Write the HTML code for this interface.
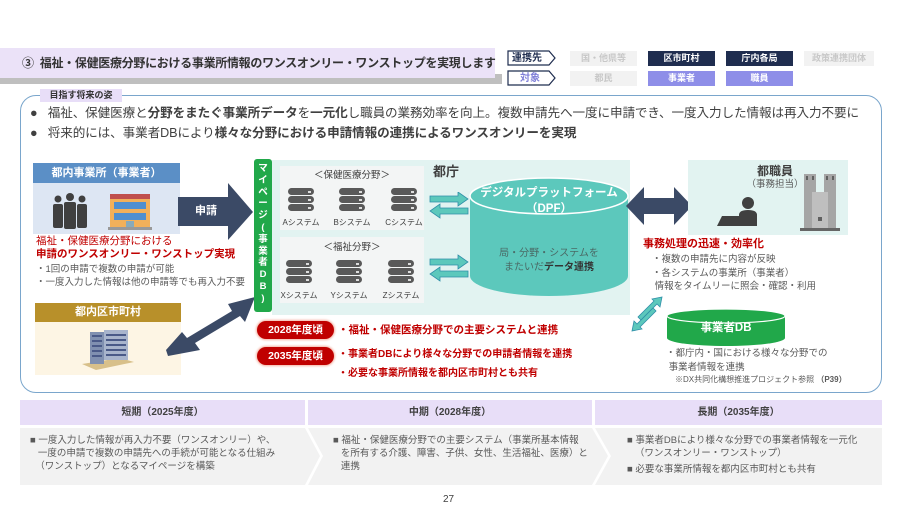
<!DOCTYPE html>
<html><head><meta charset="utf-8"><style>
*{margin:0;padding:0;box-sizing:border-box}
body{width:900px;height:506px;background:#fff;position:relative;overflow:hidden;font-family:"Liberation Sans","Noto Sans CJK JP",sans-serif;color:#404040}
.a{position:absolute;line-height:1.2}
.b{font-weight:bold}
.c{text-align:center}
.cell{position:absolute;height:15px;font-size:9px;line-height:15px;text-align:center;font-weight:bold}
.db{position:absolute;width:26px}
.db i{display:block;height:7px;background:#595959;border-radius:6px;margin-bottom:1px;position:relative}
.db i:after{content:"";position:absolute;right:3px;top:3px;width:3px;height:2px;background:#ddd}
.lbl{position:absolute;font-size:8px;color:#404040;width:50px;text-align:center}
.red{color:#c00000;font-weight:bold}
.g{color:#595959}
</style></head><body>
<!-- header -->
<div class="a" style="left:0;top:74px;width:502px;height:10px;background:#bfbfbf"></div>
<div class="a" style="left:0;top:48px;width:495px;height:30px;background:#ebe2f8"></div>
<div class="a b" style="left:22px;top:56px;font-size:12px;letter-spacing:-0.3px;color:#333;white-space:nowrap">③&nbsp; 福祉・保健医療分野における事業所情報のワンスオンリー・ワンストップを実現します</div>
<svg class="a" style="left:507px;top:50px" width="50" height="40"><path d="M1 1H42L48 8L42 15H1Z" fill="#fff" stroke="#1f2d4f" stroke-width="1.2"/><path d="M1 21H42L48 28L42 35H1Z" fill="#fff" stroke="#1f2d4f" stroke-width="1.2"/></svg>
<div class="a b" style="left:512px;top:51px;font-size:10px;line-height:15px;color:#1f2d4f">連携先</div>
<div class="a b" style="left:520px;top:71px;font-size:10px;line-height:15px;color:#8080d8">対象</div>
<div class="cell" style="left:570px;top:51px;width:67px;background:#f2f2f2;color:#c8c8c8">国・他県等</div>
<div class="cell" style="left:648px;top:51px;width:67px;background:#1f2d4f;color:#fff">区市町村</div>
<div class="cell" style="left:726px;top:51px;width:67px;background:#1f2d4f;color:#fff">庁内各局</div>
<div class="cell" style="left:804px;top:51px;width:70px;background:#f2f2f2;color:#c8c8c8">政策連携団体</div>
<div class="cell" style="left:570px;top:71px;width:67px;background:#f2f2f2;color:#c8c8c8">都民</div>
<div class="cell" style="left:648px;top:71px;width:67px;background:#8e8ee8;color:#fff">事業者</div>
<div class="cell" style="left:726px;top:71px;width:67px;background:#8e8ee8;color:#fff">職員</div>
<!-- main box -->
<div class="a" style="left:20px;top:95px;width:862px;height:298px;border:1px solid #7aa6cc;border-radius:16px"></div>
<div class="a b" style="left:40px;top:89px;width:82px;height:13px;background:#e8def8;font-size:9px;line-height:13px;text-align:center;color:#333">目指す将来の姿</div>
<div class="a" style="left:30px;top:106px;font-size:12.6px;white-space:nowrap;letter-spacing:-0.1px">●&nbsp;&nbsp; 福祉、保健医療と<b>分野をまたぐ事業所データ</b>を<b>一元化</b>し職員の業務効率を向上。複数申請先へ一度に申請でき、一度入力した情報は再入力不要に</div>
<div class="a" style="left:30px;top:126px;font-size:12.6px;white-space:nowrap;letter-spacing:-0.1px">●&nbsp;&nbsp; 将来的には、事業者DBにより<b>様々な分野における申請情報の連携によるワンスオンリーを実現</b></div>
<!-- 都内事業所 -->
<div class="a b c" style="left:33px;top:163px;width:147px;height:20px;background:#5b8fc6;color:#fff;font-size:11px;line-height:20px">都内事業所（事業者）</div>
<div class="a" style="left:33px;top:183px;width:147px;height:51px;background:#dde6f3"></div>
<svg class="a" style="left:50px;top:193px" width="40" height="36"><g fill="#404040"><circle cx="8" cy="6" r="3.5"/><circle cx="20" cy="4" r="4"/><circle cx="32" cy="6" r="3.5"/><rect x="3" y="11" width="10" height="24" rx="2"/><rect x="14" y="9" width="12" height="27" rx="2"/><rect x="27" y="11" width="10" height="24" rx="2"/></g></svg>
<svg class="a" style="left:108px;top:192px" width="44" height="38"><rect x="2" y="2" width="40" height="34" fill="#f2b05a"/><rect x="2" y="2" width="40" height="5" fill="#c0504d"/><rect x="6" y="10" width="32" height="7" fill="#4f8fd0"/><rect x="6" y="21" width="32" height="7" fill="#4f8fd0"/><rect x="18" y="29" width="8" height="7" fill="#8ab"/><rect x="0" y="35" width="44" height="3" fill="#999"/></svg>
<svg class="a" style="left:178px;top:183px" width="76" height="58"><path d="M0 14H50V0L75 29L50 57V43H0Z" fill="#3b4a66"/></svg>
<div class="a b" style="left:195px;top:205px;color:#fff;font-size:11px">申請</div>
<div class="a" style="left:36px;top:235px;font-size:10.5px;color:#c00000">福祉・保健医療分野における</div>
<div class="a red" style="left:36px;top:248px;font-size:10.5px">申請のワンスオンリー・ワンストップ実現</div>
<div class="a g" style="left:36px;top:263px;font-size:9.5px;line-height:13px">・1回の申請で複数の申請が可能<br>・一度入力した情報は他の申請等でも再入力不要</div>
<!-- 区市町村 -->
<div class="a b c" style="left:35px;top:303px;width:146px;height:19px;background:#b8902a;color:#fff;font-size:11px;line-height:19px">都内区市町村</div>
<div class="a" style="left:35px;top:322px;width:146px;height:53px;background:#fdf5e4"></div>
<svg class="a" style="left:80px;top:326px" width="56" height="44"><path d="M2 38L40 32L54 36L16 44Z" fill="#d8c08a"/><rect x="10" y="6" width="14" height="32" fill="#8090b0"/><rect x="24" y="4" width="24" height="30" fill="#a8b4cc"/><g fill="#4a5a88"><rect x="12" y="9" width="10" height="2"/><rect x="12" y="14" width="10" height="2"/><rect x="12" y="19" width="10" height="2"/><rect x="12" y="24" width="10" height="2"/><rect x="12" y="29" width="10" height="2"/><rect x="26" y="8" width="20" height="2"/><rect x="26" y="13" width="20" height="2"/><rect x="26" y="18" width="20" height="2"/><rect x="26" y="23" width="20" height="2"/><rect x="26" y="28" width="20" height="2"/></g></svg>
<svg class="a" style="left:160px;top:290px" width="100" height="70"><path d="M6 60L22 42L27 48L72 21L68 14L95 7L85 32L80 26L35 53L40 60L8 66Z" fill="#3b4a66"/></svg>
<!-- mypage & teal -->
<div class="a" style="left:272px;top:160px;width:358px;height:155px;background:#e2f3f1"></div>
<div class="a b" style="left:254px;top:159px;width:18px;height:153px;background:#21a84a;border-radius:3px;color:#fff;font-size:9.5px;line-height:11.8px;text-align:center;padding-top:4px">マ<br>イ<br>ペ<br>ー<br>ジ<br>(<br>事<br>業<br>者<br>D<br>B<br>)</div>
<div class="a" style="left:280px;top:166px;width:144px;height:64px;background:#f3f5f5"></div>
<div class="a" style="left:280px;top:237px;width:144px;height:66px;background:#f3f5f5"></div>
<div class="a c" style="left:280px;top:170px;width:144px;font-size:9.5px">＜保健医療分野＞</div>
<div class="a c" style="left:280px;top:242px;width:144px;font-size:9.5px">＜福祉分野＞</div>
<div class="db" style="left:288px;top:188px"><i></i><i></i><i></i></div>
<div class="db" style="left:339px;top:188px"><i></i><i></i><i></i></div>
<div class="db" style="left:391px;top:188px"><i></i><i></i><i></i></div>
<div class="db" style="left:286px;top:260px"><i></i><i></i><i></i></div>
<div class="db" style="left:336px;top:260px"><i></i><i></i><i></i></div>
<div class="db" style="left:388px;top:260px"><i></i><i></i><i></i></div>
<div class="lbl" style="left:276px;top:217px">Aシステム</div>
<div class="lbl" style="left:327px;top:217px">Bシステム</div>
<div class="lbl" style="left:379px;top:217px">Cシステム</div>
<div class="lbl" style="left:274px;top:290px">Xシステム</div>
<div class="lbl" style="left:324px;top:290px">Yシステム</div>
<div class="lbl" style="left:376px;top:290px">Zシステム</div>
<div class="a b" style="left:433px;top:164px;font-size:13px;color:#404040">都庁</div>
<svg class="a" style="left:428px;top:192px" width="42" height="96"><g fill="#5cc8bc" stroke="#2f8fa8" stroke-width="0.8"><path d="M2 4H30V0L40 7L30 14V10H2Z"/><path d="M40 16H12V12L2 19L12 26V22H40Z"/><path d="M2 67H30V63L40 70L30 77V73H2Z"/><path d="M40 79H12V75L2 82L12 89V85H40Z"/></g></svg>
<!-- DPF -->
<svg class="a" style="left:466px;top:176px" width="166" height="124"><path d="M4 20V100A79 20 0 0 0 162 100V20Z" fill="#5cc8bc"/><ellipse cx="83" cy="20" rx="79" ry="18" fill="#5cc8bc" stroke="#fff" stroke-width="1.5"/></svg>
<div class="a b c" style="left:470px;top:185px;width:158px;font-size:11.5px;color:#fff;line-height:16px">デジタルプラットフォーム<br>（DPF）</div>
<div class="a c" style="left:470px;top:247px;width:158px;font-size:10px;color:#4a6a66;line-height:14px">局・分野・システムを<br>またいだ<b style="color:#333">データ連携</b></div>
<svg class="a" style="left:626px;top:185px" width="66" height="42"><path d="M0 21L18 2V13H48V2L66 21L48 40V29H18V40Z" fill="#3b4a66"/></svg>
<!-- 都職員 -->
<div class="a" style="left:688px;top:160px;width:160px;height:75px;background:#e2f3f1"></div>
<div class="a b c" style="left:745px;top:164px;width:60px;font-size:12px">都職員</div>
<div class="a c" style="left:740px;top:179px;width:70px;font-size:9.5px;color:#595959">（事務担当）</div>
<svg class="a" style="left:714px;top:196px" width="50" height="32"><circle cx="34" cy="7" r="6" fill="#404040"/><path d="M25 30V19Q25 14 34 14Q43 14 43 19V30Z" fill="#404040"/><path d="M3 30L8 20H26L28 30Z" fill="#404040"/></svg>
<svg class="a" style="left:800px;top:172px" width="40" height="60"><rect x="4" y="2" width="12" height="56" fill="#a6a6a6"/><rect x="24" y="2" width="12" height="56" fill="#a6a6a6"/><rect x="12" y="20" width="16" height="38" fill="#bfbfbf"/><g fill="#606060"><rect x="6" y="4" width="2" height="4"/><rect x="12" y="4" width="2" height="4"/><rect x="26" y="4" width="2" height="4"/><rect x="32" y="4" width="2" height="4"/><rect x="18" y="45" width="4" height="4"/></g><rect x="0" y="56" width="40" height="3" fill="#666"/></svg>
<div class="a red" style="left:643px;top:238px;font-size:11px">事務処理の迅速・効率化</div>
<div class="a g" style="left:652px;top:253px;font-size:9.5px;line-height:13.5px">・複数の申請先に内容が反映<br>・各システムの事業所（事業者）<br>&nbsp;情報をタイムリーに照会・確認・利用</div>
<svg class="a" style="left:628px;top:295px" width="38" height="38"><g fill="#5cc8bc" stroke="#2f8fa8" stroke-width="0.8"><path d="M24 4L34 2L32 12L29 9L13 25L10 22L26 6Z"/><path d="M14 34L4 36L6 26L9 29L25 13L28 16L12 32Z"/></g></svg>
<svg class="a" style="left:665px;top:308px" width="122" height="40"><path d="M2 8V30A59 8 0 0 0 120 30V8Z" fill="#21a84a"/><ellipse cx="61" cy="8" rx="59" ry="7" fill="#21a84a" stroke="#fff" stroke-width="1.2"/></svg>
<div class="a b c" style="left:667px;top:322px;width:118px;font-size:11.5px;color:#fff">事業者DB</div>
<div class="a g" style="left:666px;top:347px;font-size:9.5px;line-height:13.5px">・都庁内・国における様々な分野での<br>&nbsp;事業者情報を連携</div>
<div class="a g" style="left:675px;top:375px;font-size:8px">※DX共同化構想推進プロジェクト参照 <b>（P39）</b></div>
<!-- pills -->
<div class="a b c" style="left:257px;top:321px;width:77px;height:18px;background:#c00000;border-radius:9px;color:#fff;font-size:10.5px;line-height:18px;box-shadow:0 0 2px 1px #f4b0a0">2028年度頃</div>
<div class="a b c" style="left:257px;top:347px;width:77px;height:18px;background:#c00000;border-radius:9px;color:#fff;font-size:10.5px;line-height:18px;box-shadow:0 0 2px 1px #f4b0a0">2035年度頃</div>
<div class="a red" style="left:338px;top:324px;font-size:10.5px">・福祉・保健医療分野での主要システムと連携</div>
<div class="a red" style="left:338px;top:349px;font-size:10px">・事業者DBにより様々な分野での申請者情報を連携</div>
<div class="a red" style="left:338px;top:368px;font-size:10px">・必要な事業所情報を都内区市町村とも共有</div>
<!-- bottom table -->
<div class="a b c" style="left:20px;top:400px;width:285px;height:25px;background:#e8def8;font-size:10px;line-height:25px">短期（2025年度）</div>
<div class="a b c" style="left:308px;top:400px;width:284px;height:25px;background:#e8def8;font-size:10px;line-height:25px">中期（2028年度）</div>
<div class="a b c" style="left:595px;top:400px;width:287px;height:25px;background:#e8def8;font-size:10px;line-height:25px">長期（2035年度）</div>
<svg class="a" style="left:20px;top:428px" width="862" height="57"><path d="M0 0H285L300 28L285 57H0Z" fill="#f2f2f2"/><path d="M288 0H572L588 28L572 57H288L303 28Z" fill="#f2f2f2"/><path d="M575 0H862V57H575L591 28Z" fill="#f2f2f2"/></svg>
<div class="a g" style="left:30px;top:434px;font-size:9.5px;line-height:13px">■ 一度入力した情報が再入力不要（ワンスオンリー）や、<br>&nbsp;&nbsp;&nbsp;一度の申請で複数の申請先への手続が可能となる仕組み<br>&nbsp;&nbsp;（ワンストップ）となるマイページを構築</div>
<div class="a g" style="left:333px;top:434px;font-size:9.5px;line-height:13px">■ 福祉・保健医療分野での主要システム（事業所基本情報<br>&nbsp;&nbsp;&nbsp;を所有する介護、障害、子供、女性、生活福祉、医療）と<br>&nbsp;&nbsp;&nbsp;連携</div>
<div class="a g" style="left:627px;top:434px;font-size:9.5px;line-height:13px">■ 事業者DBにより様々な分野での事業者情報を一元化<br>&nbsp;&nbsp;&nbsp;（ワンスオンリー・ワンストップ）<br><span style="line-height:20px">■ 必要な事業所情報を都内区市町村とも共有</span></div>
<div class="a" style="left:443px;top:494px;font-size:10px;color:#404040">27</div>
</body></html>
